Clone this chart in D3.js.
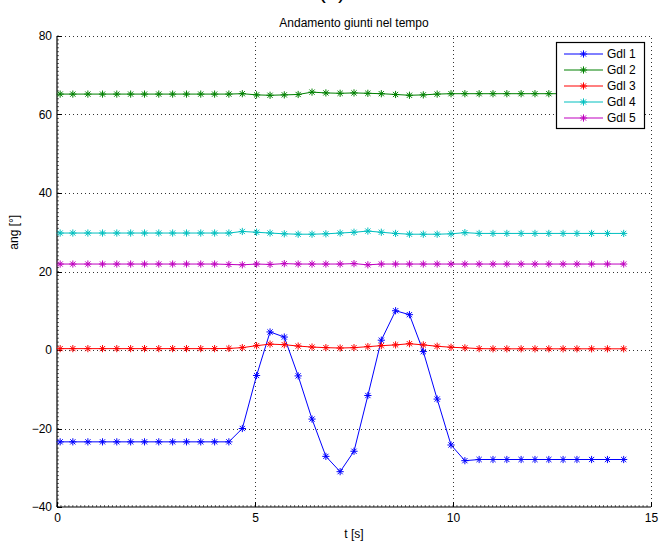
<!DOCTYPE html>
<html>
<head>
<meta charset="utf-8">
<script src="https://cdn.jsdelivr.net/npm/d3@7"></script>
<style>
    body { margin: 0; background: #fff; }
    svg { display: block; font-family: 'Liberation Sans', Arial, Helvetica, sans-serif; }
</style>
</head>
<body>
<div id="chart"></div>
<script>
var width = 659, height = 543,
    title = 'Andamento giunti nel tempo',
    xLabel = 't [s]',
    yLabel = 'ang [°]',
    xTicks = [0, 5, 10, 15],
    yTicks = [-40, -20, 0, 20, 40, 60, 80],
    seriesNames = ['Gdl 1', 'Gdl 2', 'Gdl 3', 'Gdl 4', 'Gdl 5'],
    seriesColors = ['#0000ff', '#008000', '#ff0000', '#00bfbf', '#bf00bf'],
    time = [0.08, 0.40, 0.78, 1.15, 1.51, 1.86, 2.21, 2.57, 2.92, 3.27,
        3.63, 3.98, 4.34, 4.68, 5.04, 5.38, 5.74, 6.09, 6.44, 6.79,
        7.15, 7.50, 7.85, 8.19, 8.55, 8.90, 9.25, 9.60, 9.95, 10.30,
        10.66, 11.01, 11.36, 11.72, 12.07, 12.42, 12.78, 13.13, 13.50, 13.90,
        14.31],
    gdl1 = [-23.4, -23.4, -23.4, -23.4, -23.4, -23.4, -23.4, -23.4, -23.4, -23.4,
        -23.4, -23.4, -23.4, -20.0, -6.5, 4.6, 3.3, -6.6, -17.6, -27.1,
        -31.0, -25.8, -11.6, 2.5, 10.0, 9.0, -0.4, -12.5, -24.2, -28.2,
        -27.9, -27.9, -27.9, -27.9, -27.9, -27.9, -27.9, -27.9, -27.9, -27.9,
        -27.9],
    gdl2 = [65.2, 65.2, 65.2, 65.2, 65.2, 65.2, 65.2, 65.2, 65.2, 65.2,
        65.2, 65.2, 65.2, 65.3, 65.0, 64.9, 65.0, 65.1, 65.7, 65.5,
        65.4, 65.5, 65.4, 65.3, 65.1, 64.9, 65.0, 65.2, 65.3, 65.3,
        65.3, 65.3, 65.3, 65.3, 65.3, 65.3, 65.3, 65.3, 65.3, 65.3,
        65.3],
    gdl3 = [0.35, 0.35, 0.35, 0.35, 0.35, 0.35, 0.35, 0.35, 0.35, 0.35,
        0.35, 0.35, 0.4, 0.6, 1.1, 1.5, 1.35, 1.0, 0.75, 0.6,
        0.5, 0.6, 0.85, 1.1, 1.3, 1.6, 1.3, 0.95, 0.7, 0.55,
        0.35, 0.3, 0.3, 0.3, 0.3, 0.3, 0.3, 0.3, 0.3, 0.3,
        0.3],
    gdl4 = [29.8, 29.8, 29.8, 29.8, 29.8, 29.8, 29.8, 29.8, 29.8, 29.8,
        29.8, 29.8, 29.8, 30.2, 30.0, 29.8, 29.6, 29.5, 29.5, 29.6,
        29.8, 30.0, 30.3, 30.0, 29.7, 29.5, 29.5, 29.5, 29.6, 29.9,
        29.7, 29.7, 29.7, 29.7, 29.7, 29.7, 29.7, 29.7, 29.7, 29.7,
        29.7],
    gdl5 = [21.9, 21.9, 21.9, 21.9, 21.9, 21.9, 21.9, 21.9, 21.9, 21.9,
        21.9, 21.9, 21.8, 21.7, 21.9, 21.8, 22.0, 21.9, 21.9, 21.9,
        21.9, 22.0, 21.7, 21.9, 21.9, 21.9, 21.9, 21.9, 21.9, 21.9,
        21.9, 21.9, 21.9, 21.9, 21.9, 21.9, 21.9, 21.9, 21.9, 21.9,
        21.9];

var allSeries = [gdl1, gdl2, gdl3, gdl4, gdl5];

var margin = { left: 57, top: 36, right: 8, bottom: 36 };

var x = d3.scaleLinear().domain([0, 15]).range([margin.left, width - margin.right]);
var y = d3.scaleLinear().domain([-40, 80]).range([height - margin.bottom, margin.top]);

var svg = d3.select('#chart').append('svg')
    .attr('width', width)
    .attr('height', height);

// caption above the title, cut by the top edge as in the source figure
svg.append('text')
    .attr('x', 332).attr('y', -2)
    .attr('text-anchor', 'middle')
    .style('font-size', '22px')
    .text('(a)');

// Grid
let grid = svg.append('g')
    .attr('stroke', '#333')
    .attr('stroke-width', 1)
    .attr('stroke-dasharray', '1,3');

grid.selectAll('.gx')
    .data(xTicks.filter(d => d > 0))
    .enter().append('line')
    .attr('x1', d => Math.round(x(d)) + 0.5)
    .attr('x2', d => Math.round(x(d)) + 0.5)
    .attr('y1', y(-40))
    .attr('y2', y(80));

grid.selectAll('.gy')
    .data(yTicks.filter(d => d > -40))
    .enter().append('line')
    .attr('y1', d => Math.round(y(d)) + 0.5)
    .attr('y2', d => Math.round(y(d)) + 0.5)
    .attr('x1', x(0))
    .attr('x2', x(15));

// Axes
let xAxis = d3.axisBottom(x).tickValues(xTicks).tickSize(0).tickPadding(6);
let yAxis = d3.axisLeft(y).tickValues(yTicks).tickSize(0).tickPadding(5)
    .tickFormat(d => d < 0 ? '\u2212' + Math.abs(d) : d);

let gx = svg.append('g')
    .attr('transform', 'translate(0,' + y(-40) + ')')
    .call(xAxis);
let gy = svg.append('g')
    .attr('transform', 'translate(' + x(0) + ',0)')
    .call(yAxis);

[gx, gy].forEach(g => {
    g.select('.domain').remove();
    g.selectAll('text').style('font-size', '12px').attr('fill', '#000');
});

// minor ticks
svg.append('g').selectAll('line')
    .data(d3.range(-40, 81, 1))
    .enter().append('line')
    .attr('x1', x(0)).attr('x2', x(0) + 2)
    .attr('y1', d => y(d)).attr('y2', d => y(d))
    .attr('stroke', '#555').attr('stroke-width', 0.9);

svg.append('g').selectAll('line')
    .data(d3.range(0, 150, 1).map(d => d / 10))
    .enter().append('line')
    .attr('y1', y(-40)).attr('y2', y(-40) - 2)
    .attr('x1', d => x(d)).attr('x2', d => x(d))
    .attr('stroke', '#555').attr('stroke-width', 0.9);

// major ticks
svg.append('g').selectAll('line')
    .data(yTicks)
    .enter().append('line')
    .attr('x1', x(0)).attr('x2', x(0) + 5)
    .attr('y1', d => Math.round(y(d)) + 0.5).attr('y2', d => Math.round(y(d)) + 0.5)
    .attr('stroke', '#000');

svg.append('g').selectAll('line')
    .data(xTicks)
    .enter().append('line')
    .attr('y1', y(-40)).attr('y2', y(-40) - 5)
    .attr('x1', d => Math.round(x(d)) + 0.5).attr('x2', d => Math.round(x(d)) + 0.5)
    .attr('stroke', '#000');

// axis lines
svg.append('line')
    .attr('x1', x(0)).attr('x2', x(0))
    .attr('y1', y(80)).attr('y2', y(-40))
    .attr('stroke', '#000').attr('stroke-width', 1.2);
svg.append('line')
    .attr('x1', x(0)).attr('x2', x(15))
    .attr('y1', y(-40)).attr('y2', y(-40))
    .attr('stroke', '#000').attr('stroke-width', 1.2);

// Labels
svg.append('text')
    .attr('x', 354).attr('y', 27)
    .attr('text-anchor', 'middle')
    .style('font-size', '12px')
    .text(title);

svg.append('text')
    .attr('x', (x(0) + x(15)) / 2).attr('y', 538)
    .attr('text-anchor', 'middle')
    .style('font-size', '12px')
    .text(xLabel);

svg.append('text')
    .attr('transform', 'translate(18,' + y(30) + ') rotate(-90)')
    .attr('text-anchor', 'middle')
    .style('font-size', '12px')
    .text(yLabel);

// Star marker ('*' = plus + cross)
function star(g, cx, cy, color) {
    let r = 3.6, d = 2.6;
    g.append('path')
        .attr('d', 'M' + (cx - r) + ',' + cy + 'H' + (cx + r) +
            'M' + cx + ',' + (cy - r) + 'V' + (cy + r) +
            'M' + (cx - d) + ',' + (cy - d) + 'L' + (cx + d) + ',' + (cy + d) +
            'M' + (cx - d) + ',' + (cy + d) + 'L' + (cx + d) + ',' + (cy - d))
        .attr('stroke', color)
        .attr('stroke-width', 1)
        .attr('fill', 'none');
}

// Series
let line = d3.line()
    .x((d, i) => x(time[i]))
    .y(d => y(d));

allSeries.forEach((values, k) => {
    let g = svg.append('g');
    g.append('path')
        .datum(values)
        .attr('d', line)
        .attr('fill', 'none')
        .attr('stroke', seriesColors[k])
        .attr('stroke-width', 1);
    values.forEach((v, i) => star(g, x(time[i]), y(v), seriesColors[k]));
});

// Legend
let legend = svg.append('g');
legend.append('rect')
    .attr('x', 556.5).attr('y', 42.5)
    .attr('width', 88).attr('height', 86)
    .attr('fill', '#fff')
    .attr('stroke', '#000')
    .attr('stroke-width', 1.2);

seriesNames.forEach((name, k) => {
    let ly = 54 + k * 16;
    legend.append('line')
        .attr('x1', 564).attr('x2', 603)
        .attr('y1', ly).attr('y2', ly)
        .attr('stroke', seriesColors[k])
        .attr('stroke-width', 1);
    star(legend, 583.5, ly, seriesColors[k]);
    legend.append('text')
        .attr('x', 607).attr('y', ly)
        .attr('dy', '0.36em')
        .style('font-size', '12px')
        .text(name);
});
</script>
</body>
</html>
